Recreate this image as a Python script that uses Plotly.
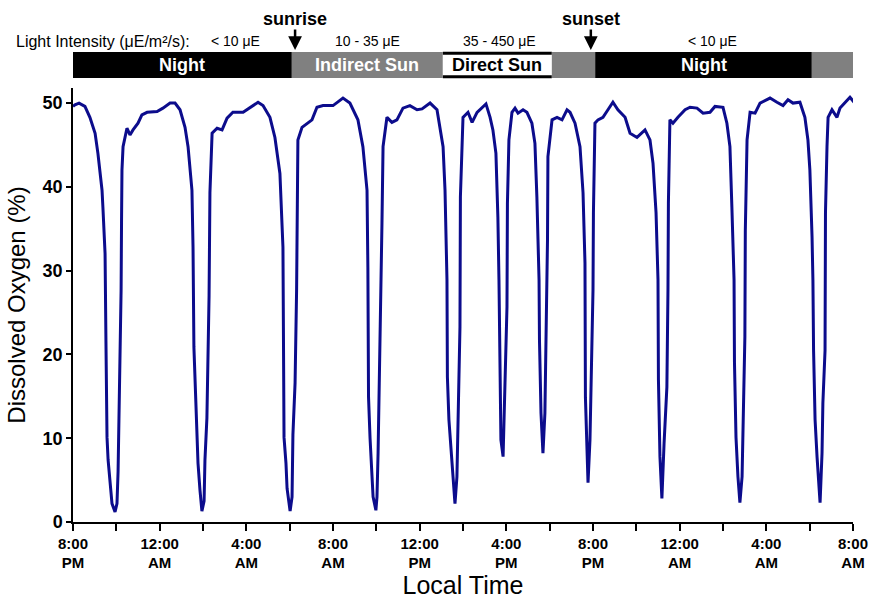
import plotly.graph_objects as go

# Hours since 8:00 PM (day 1) and dissolved oxygen (%)
hours = [0, 0.09, 0.28, 0.55, 0.78, 1.02, 1.15, 1.34, 1.38, 1.48, 1.52, 1.57, 1.62, 1.71, 1.80, 1.94,
         2.03, 2.08, 2.12, 2.17, 2.22, 2.24, 2.26, 2.31, 2.49, 2.63, 2.77, 3.00, 3.18, 3.42, 3.88, 4.15,
         4.48, 4.71, 4.94, 5.17, 5.31, 5.49, 5.54, 5.58, 5.72, 5.77, 5.86, 5.95, 6.05, 6.09, 6.18, 6.23,
         6.28, 6.32, 6.42, 6.65, 6.88, 7.11, 7.38, 7.85, 8.17, 8.54, 8.77, 9.09, 9.32, 9.55, 9.69, 9.72,
         9.74, 9.83, 9.88, 10.02, 10.11, 10.15, 10.25, 10.32, 10.34, 10.38, 10.57, 10.80, 11.03, 11.26,
         11.54, 12.00, 12.46, 12.78, 13.15, 13.38, 13.57, 13.61, 13.64, 13.71, 13.80, 13.85, 13.98, 14.03,
         14.08, 14.17, 14.21, 14.26, 14.31, 14.49, 14.72, 14.95, 15.23, 15.55, 15.88, 16.11, 16.48, 16.80,
         17.08, 17.17, 17.26, 17.28, 17.35, 17.49, 17.54, 17.63, 17.72, 17.77, 17.86, 17.88, 17.95, 18.00,
         18.23, 18.42, 18.65, 18.88, 19.06, 19.25, 19.38, 19.52, 19.61, 19.66, 19.68, 19.71, 19.75, 19.85,
         19.89, 19.94, 20.03, 20.05, 20.12, 20.26, 20.40, 20.54, 20.77, 20.95, 21.18, 21.32, 21.41, 21.51,
         21.53, 21.60, 21.65, 21.69, 21.78, 21.83, 21.88, 21.90, 21.92, 22.11, 22.34, 22.57, 22.80, 22.94,
         23.17, 23.40, 23.54, 23.63, 23.65, 23.72, 23.77, 23.86, 23.95, 24.00, 24.02, 24.09, 24.23, 24.46,
         24.69, 24.92, 25.15, 25.48, 25.71, 26.03, 26.40, 26.63, 26.77, 26.91, 27.00, 27.02, 27.09, 27.18,
         27.28, 27.41, 27.46, 27.48, 27.55, 27.69, 27.92, 28.25, 28.48, 28.80, 29.08, 29.40, 29.63, 30.00,
         30.18, 30.32, 30.41, 30.51, 30.53, 30.60, 30.69, 30.78, 30.88, 30.92, 31.01, 31.03, 31.11, 31.25,
         31.48, 31.71, 32.17, 32.49, 32.77, 33.00, 33.23, 33.55, 33.78, 33.92, 34.01, 34.11, 34.15, 34.18,
         34.25, 34.34, 34.48, 34.57, 34.61, 34.71, 34.73, 34.80, 34.85, 35.03, 35.26, 35.40, 35.63, 35.86,
         36.05]
oxygen = [49.6, 49.8, 50.0, 49.6, 48.3, 46.4, 44.0, 39.6, 37.6, 32.0, 21.7, 10.1, 7.4, 5.0, 2.2, 1.2,
          2.2, 6.0, 11.8, 18.4, 27.7, 35.7, 42.0, 44.8, 47.0, 46.2, 46.8, 47.6, 48.6, 48.9, 49.0, 49.4,
          50.0, 50.0, 49.2, 47.1, 44.8, 39.6, 32.8, 20.9, 9.8, 7.0, 3.8, 1.3, 2.5, 7.4, 12.4, 18.4,
          27.0, 39.3, 46.4, 47.0, 46.8, 48.2, 48.9, 48.9, 49.5, 50.1, 49.7, 48.3, 45.9, 41.6, 32.8, 18.4,
          10.1, 7.0, 4.0, 1.3, 3.0, 10.4, 16.6, 27.7, 38.8, 45.6, 47.1, 47.6, 48.0, 49.5,
          49.7, 49.7, 50.6, 50.0, 48.0, 44.8, 39.6, 30.4, 14.9, 10.0, 5.0, 3.0, 1.4, 3.0,
          8.2, 20.2, 27.7, 35.7, 44.8, 48.3, 47.7, 48.0, 49.4, 49.7, 49.2, 49.3, 50.0, 49.2,
          44.8, 39.6, 28.9, 17.3, 12.2, 7.4, 5.0, 2.2, 5.4, 12.2, 23.3, 38.8, 43.6, 48.3,
          48.9, 47.7, 48.9, 49.4, 49.9, 48.3, 46.8, 44.0, 36.4, 28.9, 24.1, 13.4, 9.8, 7.8,
          11.3, 16.6, 25.7, 38.0, 45.6, 48.9, 49.4, 48.8, 49.2, 48.9, 47.6, 45.2, 38.8, 28.9,
          21.7, 13.0, 10.1, 8.2, 13.0, 20.2, 27.7, 33.7, 43.6, 48.0, 48.3, 48.0, 49.2, 48.9,
          47.6, 44.8, 39.3, 30.9, 14.9, 7.0, 4.7, 9.8, 19.7, 27.7, 36.9, 47.6, 48.0, 48.3,
          49.2, 50.1, 49.2, 48.3, 46.4, 45.9, 46.8, 45.6, 42.8, 36.9, 28.9, 17.0, 7.8, 2.8,
          9.4, 16.1, 27.7, 38.0, 48.0, 47.6, 48.3, 49.2, 49.5, 49.4, 48.8, 48.9, 49.6, 49.5,
          47.6, 44.8, 37.6, 28.9, 19.0, 10.1, 5.4, 2.3, 5.4, 11.0, 22.1, 34.8, 45.6, 48.9,
          48.8, 50.0, 50.6, 50.1, 49.7, 50.4, 50.0, 50.1, 48.3, 45.6, 42.0, 34.0, 28.9, 20.5,
          12.2, 7.8, 2.3, 8.2, 14.2, 20.5, 36.9, 44.8, 48.3, 49.2, 48.3, 49.4, 50.1, 50.7,
          50.1]

# X-axis ticks (every 2 h, labelled every 4 h)
tick_hours = list(range(0, 37, 2))
tick_times = ["8:00", "", "12:00", "", "4:00", "", "8:00", "", "12:00", "", "4:00", "",
              "8:00", "", "12:00", "", "4:00", "", "8:00"]
tick_ampm = ["PM", "", "AM", "", "AM", "", "AM", "", "PM", "", "PM", "",
             "PM", "", "AM", "", "AM", "", "AM"]

y_ticks = [0, 10, 20, 30, 40, 50]

# Light-condition band
band_starts = [0, 10.1, 17.07, 22.1, 24.1, 34.1]
band_ends = [10.1, 17.07, 22.1, 24.1, 34.1, 36.1]
band_labels = ["Night", "Indirect Sun", "Direct Sun", "", "Night", ""]
band_fills = ["black", "#808080", "white", "#808080", "black", "#808080"]
band_text_colors = ["white", "white", "black", "white", "white", "white"]

intensity_hours = [7.5, 13.6, 19.7, 29.5]
intensity_labels = ["< 10 μE", "10 - 35 μE", "35 - 450 μE", "< 10 μE"]

event_hours = [10.25, 23.9]
event_labels = ["sunrise", "sunset"]

FONT = "Arial, 'Liberation Sans', sans-serif"

fig = go.Figure()
fig.add_trace(go.Scatter(x=hours, y=oxygen, mode="lines",
                         line=dict(color="#0c0c8c", width=3), hoverinfo="skip"))

band_y0, band_y1 = 1.023, 1.083
shapes = []
annotations = []
for s, e, lab, fill, tc in zip(band_starts, band_ends, band_labels, band_fills, band_text_colors):
    shapes.append(dict(type="rect", xref="x", yref="paper", x0=s, x1=e, y0=band_y0, y1=band_y1,
                       fillcolor=fill, line=dict(width=0), layer="above"))
    if fill == "white":
        for yy in (band_y0 + 0.003, band_y1 - 0.003):
            shapes.append(dict(type="line", xref="x", yref="paper", x0=s, x1=e, y0=yy, y1=yy,
                               line=dict(color="black", width=3), layer="above"))
    if lab:
        annotations.append(dict(x=(s + e) / 2, y=(band_y0 + band_y1) / 2, xref="x", yref="paper",
                                yanchor="middle", text=f"<b>{lab}</b>", showarrow=False,
                                font=dict(family=FONT, size=18, color=tc)))

annotations.append(dict(x=-0.076, y=1.108, xref="paper", yref="paper", xanchor="left",
                        yanchor="middle", text="Light Intensity (μE/m²/s):",
                        showarrow=False, font=dict(family=FONT, size=16, color="black")))
for h, lab in zip(intensity_hours, intensity_labels):
    annotations.append(dict(x=h, y=1.108, xref="x", yref="paper", yanchor="middle", text=lab,
                            showarrow=False, font=dict(family=FONT, size=14, color="black")))
# Event labels with arrows pointing down to the band
for h, lab in zip(event_hours, event_labels):
    annotations.append(dict(x=h, y=1.0876, xref="x", yref="paper", text=f"<b>{lab}</b>",
                            showarrow=True, ax=0, ay=-31, arrowhead=2, arrowsize=1.1,
                            arrowwidth=2.5, arrowcolor="black", borderpad=0,
                            font=dict(family=FONT, size=18, color="black")))

x_ticktext = [f"<b>{t}</b><br><b>{p}</b>" if t else "" for t, p in zip(tick_times, tick_ampm)]

fig.update_layout(
    width=871, height=600,
    margin=dict(l=73, r=18, t=88, b=78, autoexpand=False),
    paper_bgcolor="white", plot_bgcolor="white",
    showlegend=False,
    font=dict(family=FONT, color="black"),
    shapes=shapes,
    annotations=annotations,
    xaxis=dict(range=[0, 36], tickmode="array", tickvals=tick_hours, ticktext=x_ticktext,
               ticks="outside", ticklen=7, tickwidth=1.5, tickcolor="black", automargin=False,
               showline=True, linecolor="black", linewidth=1.5, showgrid=False, zeroline=False,
               tickfont=dict(family=FONT, size=15, color="black"),
               title=dict(text="Local Time", font=dict(family=FONT, size=25, color="black"),
                          standoff=4)),
    yaxis=dict(range=[0, 51.8], tickmode="array", tickvals=y_ticks,
               ticktext=[f"<b>{v}</b>" for v in y_ticks],
               ticks="outside", ticklen=5, tickwidth=1.5, tickcolor="black", automargin=False,
               showline=True, linecolor="black", linewidth=1.5, showgrid=False, zeroline=False,
               tickfont=dict(family=FONT, size=18, color="black"),
               title=dict(text="Dissolved Oxygen (%)", font=dict(family=FONT, size=24, color="black"),
                          standoff=10)),
)

# Remove the default page margin so the 871x600 figure fills the window exactly
fig.write_html("out.html", config={"displayModeBar": False},
               post_script="document.body.style.margin='0';document.body.style.overflow='hidden';")
